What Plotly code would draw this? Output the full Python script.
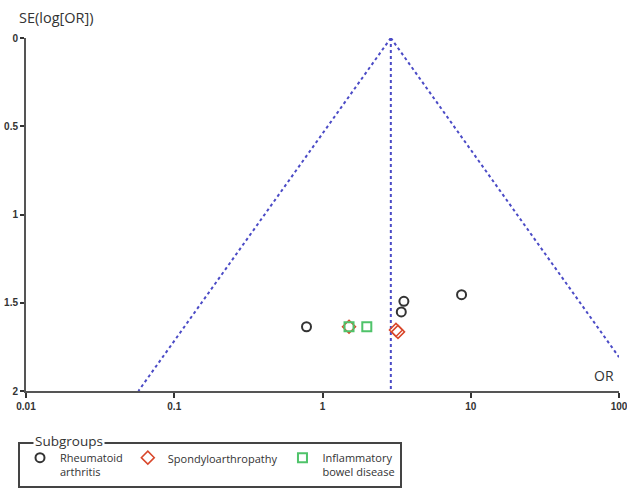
import numpy as np
import plotly.graph_objects as go

# Data
ra_or = [0.78, 3.54, 3.40, 8.67]
ra_se = [1.636, 1.492, 1.552, 1.454]
spa_or = [1.51, 3.13, 3.23]
spa_se = [1.636, 1.654, 1.665]
ibd_or = [1.51, 1.99]
ibd_se = [1.636, 1.636]
pooled_or = 2.89
x_ticks = [0.01, 0.1, 1, 10, 100]
x_ticklabels = ["0.01", "0.1", "1", "10", "100"]
y_ticks = [0, 0.5, 1, 1.5, 2]
y_ticklabels = ["0", "0.5", "1", "1.5", "2"]

se_grid = np.linspace(0, 2, 201)
left_x = pooled_or * np.exp(-1.96 * se_grid)
right_x = pooled_or * np.exp(1.96 * se_grid)
mask = right_x <= 100
right_se = np.append(se_grid[mask], np.log(100 / pooled_or) / 1.96)
right_x = np.append(right_x[mask], 100)

funnel_color = "#4b4bc6"
fig = go.Figure()
fig.add_trace(go.Scatter(x=left_x, y=se_grid, mode="lines", showlegend=False,
                         line=dict(color=funnel_color, width=2, dash="dot"), hoverinfo="skip"))
fig.add_trace(go.Scatter(x=right_x, y=right_se, mode="lines", showlegend=False,
                         line=dict(color=funnel_color, width=2, dash="dot"), hoverinfo="skip"))
fig.add_trace(go.Scatter(x=[pooled_or, pooled_or], y=[0, 2], mode="lines", showlegend=False,
                         line=dict(color=funnel_color, width=2, dash="dot"), hoverinfo="skip"))

fig.add_trace(go.Scatter(x=ra_or, y=ra_se, mode="markers", name="Rheumatoid<br>arthritis",
                         marker=dict(symbol="circle-open", size=9, color="#333333", line=dict(width=2))))
fig.add_trace(go.Scatter(x=spa_or, y=spa_se, mode="markers", name="Spondyloarthropathy",
                         marker=dict(symbol="diamond-open", size=10, color="#d9472b", line=dict(width=1.5))))
fig.add_trace(go.Scatter(x=ibd_or, y=ibd_se, mode="markers", name="Inflammatory<br>bowel disease",
                         marker=dict(symbol="square-open", size=9, color="#4fc36a", line=dict(width=2))))

tickfont = dict(family="Liberation Sans, Arial, sans-serif", size=10, color="#333333", weight="bold")
fig.update_xaxes(type="log", range=[-2, 2], tickvals=x_ticks, ticktext=x_ticklabels,
                 showgrid=False, zeroline=False, showline=True, linecolor="#555555", linewidth=2,
                 ticks="outside", ticklen=5, tickwidth=1.5, tickcolor="#333333", tickfont=tickfont,
                 automargin=False, ticklabeloverflow="allow")
fig.update_yaxes(range=[2, 0], tickvals=y_ticks, ticktext=y_ticklabels,
                 showgrid=False, zeroline=False, showline=True, linecolor="#555555", linewidth=2,
                 ticks="outside", ticklen=4, tickwidth=1.5, tickcolor="#333333", tickfont=tickfont,
                 automargin=False, ticklabeloverflow="allow")

fig.update_layout(
    width=627, height=488,
    margin=dict(l=26, r=8, t=38, b=97, autoexpand=False),
    paper_bgcolor="white", plot_bgcolor="white",
    font=dict(family="Open Sans, sans-serif", color="#333333"),
    legend=dict(orientation="h", x=18 / 627, y=1 - 442 / 488, xref="container", yref="container",
                xanchor="left", yanchor="top",
                bordercolor="#444444", borderwidth=2, bgcolor="white",
                font=dict(size=11, color="#333333"), itemwidth=30, valign="top",
                tracegroupgap=0),
    annotations=[
        dict(text="SE(log[OR])", x=0, y=1.0, xref="paper", yref="paper", xanchor="left",
             yanchor="bottom", xshift=-9, yshift=9, showarrow=False,
             font=dict(size=14.5, color="#333333")),
        dict(text="OR", x=1, y=0, xref="paper", yref="paper", xanchor="right",
             yanchor="bottom", xshift=-3, yshift=4, showarrow=False,
             font=dict(size=14, color="#333333")),
        dict(text="Subgroups", x=0.012, y=-(441 - 391) / 353, xref="paper", yref="paper",
             xanchor="left", yanchor="middle", showarrow=False, bgcolor="white",
             font=dict(size=13.5, color="#333333")),
    ],
)
fig.write_html("out.html")
